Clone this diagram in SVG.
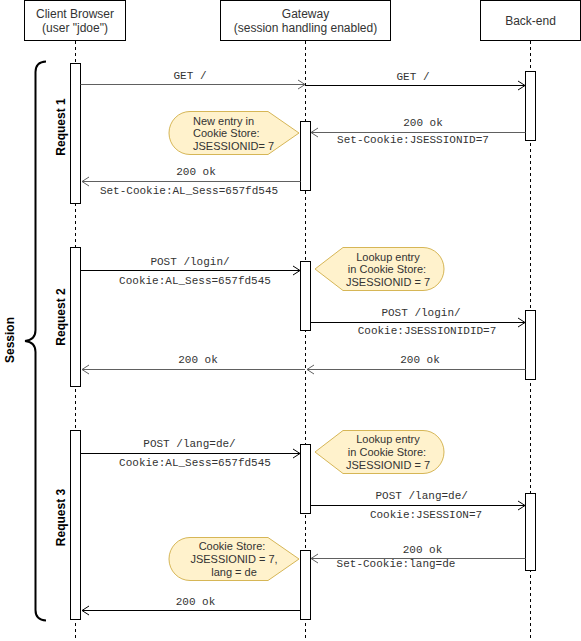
<svg xmlns="http://www.w3.org/2000/svg" width="581" height="641" viewBox="0 0 581 641">
<style>
.box{fill:#fff;stroke:#000;stroke-width:1}
.life{stroke:#000;stroke-width:1;stroke-dasharray:3 3;fill:none}
.act{fill:#fff;stroke:#000;stroke-width:1}
.hdr{font-family:"Liberation Sans",Arial,sans-serif;font-size:12px;fill:#333;text-anchor:middle}
.lbl{font-family:"Liberation Mono","DejaVu Sans Mono",monospace;font-size:11px;fill:#333;text-anchor:middle;dominant-baseline:central}
.note{fill:#fff2cc;stroke:#d6b656;stroke-width:1}
.nt{font-family:"Liberation Sans",Arial,sans-serif;font-size:11px;fill:#333;dominant-baseline:central}
.ntc{text-anchor:middle}
.side{font-family:"Liberation Sans",Arial,sans-serif;font-size:12px;font-weight:bold;fill:#000;text-anchor:middle;dominant-baseline:central}
.msg{stroke:#000;stroke-width:1;fill:none}
.rsp{stroke:#606060;stroke-width:1;fill:none}
</style>
<defs>
<marker id="ab" markerUnits="userSpaceOnUse" markerWidth="12" markerHeight="12" viewBox="-10 -6 12 12" refX="0" refY="0" orient="auto">
<path d="M -7 -4.5 L 0 0 L -7 4.5" fill="none" stroke="#000" stroke-width="1"/>
</marker>
<marker id="ag" markerUnits="userSpaceOnUse" markerWidth="12" markerHeight="12" viewBox="-10 -6 12 12" refX="0" refY="0" orient="auto">
<path d="M -7 -4.5 L 0 0 L -7 4.5" fill="none" stroke="#606060" stroke-width="1"/>
</marker>
</defs>

<g id="client">
<rect class="box" x="24.5" y="0.5" width="101" height="40"/>
<text class="hdr" x="75" y="18">Client Browser</text>
<text class="hdr" x="75" y="32">(user "jdoe")</text>
<line class="life" x1="75.5" y1="41" x2="75.5" y2="641"/>
<rect class="act" x="70.5" y="63.5" width="10" height="140"/>
<rect class="act" x="70.5" y="247.5" width="10" height="139"/>
<rect class="act" x="70.5" y="430.5" width="10" height="189"/>
</g>

<g id="gateway">
<rect class="box" x="220.5" y="0.5" width="170" height="40"/>
<text class="hdr" x="305.5" y="18">Gateway</text>
<text class="hdr" x="305.5" y="32">(session handling enabled)</text>
<line class="life" x1="305.5" y1="41" x2="305.5" y2="641"/>
<rect class="act" x="300.5" y="121.5" width="10" height="69"/>
<rect class="act" x="300.5" y="261.5" width="10" height="69"/>
<rect class="act" x="300.5" y="444.5" width="10" height="69"/>
<rect class="act" x="300.5" y="550.5" width="10" height="69"/>
</g>

<g id="backend">
<rect class="box" x="480.5" y="0.5" width="100" height="40"/>
<text class="hdr" x="530.5" y="25">Back-end</text>
<line class="life" x1="530.5" y1="41" x2="530.5" y2="641"/>
<rect class="act" x="525.5" y="71.5" width="10" height="69"/>
<rect class="act" x="525.5" y="310.5" width="10" height="69"/>
<rect class="act" x="525.5" y="493.5" width="10" height="77"/>
</g>

<g id="session">
<path d="M 46 61.5 Q 35.5 62 35.5 72 L 35.5 330 Q 35.5 340 25 341 Q 35.5 342 35.5 352 L 35.5 610 Q 35.5 620 46 620.5" fill="none" stroke="#000" stroke-width="2"/>
<text class="side" transform="translate(9.5 340) rotate(-90)">Session</text>
<text class="side" transform="translate(60.5 127) rotate(-90)">Request 1</text>
<text class="side" transform="translate(60.5 317) rotate(-90)">Request 2</text>
<text class="side" transform="translate(60.5 517.5) rotate(-90)">Request 3</text>
</g>

<g id="note1">
<path class="note" d="M 299 133 L 268 111.5 L 190 111.5 A 21 21.5 0 0 0 190 154.5 L 268 154.5 Z"/>
<text class="nt" x="193" y="120.7">New entry in</text>
<text class="nt" x="193" y="133.3">Cookie Store:</text>
<text class="nt" x="193" y="146">JSESSIONID= 7</text>
</g>

<g id="note2">
<path class="note" d="M 315 269 L 343 247.5 L 423 247.5 A 21 21.5 0 0 1 423 290.5 L 343 290.5 Z"/>
<text class="nt ntc" x="388" y="256.7">Lookup entry</text>
<text class="nt ntc" x="387" y="269.3">in Cookie Store:</text>
<text class="nt ntc" x="388" y="281.7">JSESSIONID = 7</text>
</g>

<g id="note3">
<path class="note" d="M 315 452 L 343 430.5 L 423 430.5 A 21 21.5 0 0 1 423 473.5 L 343 473.5 Z"/>
<text class="nt ntc" x="388" y="439.3">Lookup entry</text>
<text class="nt ntc" x="387" y="452">in Cookie Store:</text>
<text class="nt ntc" x="388" y="465">JSESSIONID = 7</text>
</g>

<g id="note4">
<path class="note" d="M 299 559 L 268 537.5 L 190 537.5 A 21 21.5 0 0 0 190 580.5 L 268 580.5 Z"/>
<text class="nt ntc" x="232" y="545.7">Cookie Store:</text>
<text class="nt ntc" x="234" y="559">JSESSIONID = 7,</text>
<text class="nt ntc" x="234" y="571.7">lang = de</text>
</g>

<g id="connectors">
<line class="rsp" x1="80.5" y1="84.5" x2="305" y2="84.5" marker-end="url(#ag)"/>
<text class="lbl" x="190" y="76">GET /</text>
<line class="msg" x1="305.5" y1="85.5" x2="525" y2="85.5" marker-end="url(#ab)"/>
<text class="lbl" x="413" y="77">GET /</text>
<line class="rsp" x1="525.5" y1="132.5" x2="311" y2="132.5" marker-end="url(#ag)"/>
<text class="lbl" x="423" y="123">200 ok</text>
<text class="lbl" x="413" y="140">Set-Cookie:JSESSIONID=7</text>
<line class="rsp" x1="300.5" y1="181.5" x2="82" y2="181.5" marker-end="url(#ag)"/>
<text class="lbl" x="196" y="172">200 ok</text>
<text class="lbl" x="189" y="190.7">Set-Cookie:AL_Sess=657fd545</text>

<line class="msg" x1="80.5" y1="270.5" x2="300" y2="270.5" marker-end="url(#ab)"/>
<text class="lbl" x="190" y="261.7">POST /login/</text>
<text class="lbl" x="195" y="280.7">Cookie:AL_Sess=657fd545</text>
<line class="msg" x1="310.5" y1="322.5" x2="525" y2="322.5" marker-end="url(#ab)"/>
<text class="lbl" x="421" y="313">POST /login/</text>
<text class="lbl" x="427" y="330.7">Cookie:JSESSIONIDID=7</text>
<line class="rsp" x1="525.5" y1="369.5" x2="307" y2="369.5" marker-end="url(#ag)"/>
<text class="lbl" x="420" y="360">200 ok</text>
<line class="rsp" x1="305" y1="369.5" x2="82" y2="369.5" marker-end="url(#ag)"/>
<text class="lbl" x="198" y="360">200 ok</text>

<line class="msg" x1="80.5" y1="453.5" x2="300" y2="453.5" marker-end="url(#ab)"/>
<text class="lbl" x="189.5" y="444.3">POST /lang=de/</text>
<text class="lbl" x="195" y="462.7">Cookie:AL_Sess=657fd545</text>
<line class="msg" x1="310.5" y1="505.5" x2="525" y2="505.5" marker-end="url(#ab)"/>
<text class="lbl" x="421.7" y="496.3">POST /lang=de/</text>
<text class="lbl" x="426" y="514.7">Cookie:JSESSION=7</text>
<line class="rsp" x1="525.5" y1="558.5" x2="311" y2="558.5" marker-end="url(#ag)"/>
<text class="lbl" x="422.5" y="549.7">200 ok</text>
<text class="lbl" x="396" y="563.7">Set-Cookie:lang=de</text>
<line class="msg" x1="300.5" y1="610.5" x2="82" y2="610.5" marker-end="url(#ab)"/>
<text class="lbl" x="195.5" y="601.7">200 ok</text>
</g>
</svg>
